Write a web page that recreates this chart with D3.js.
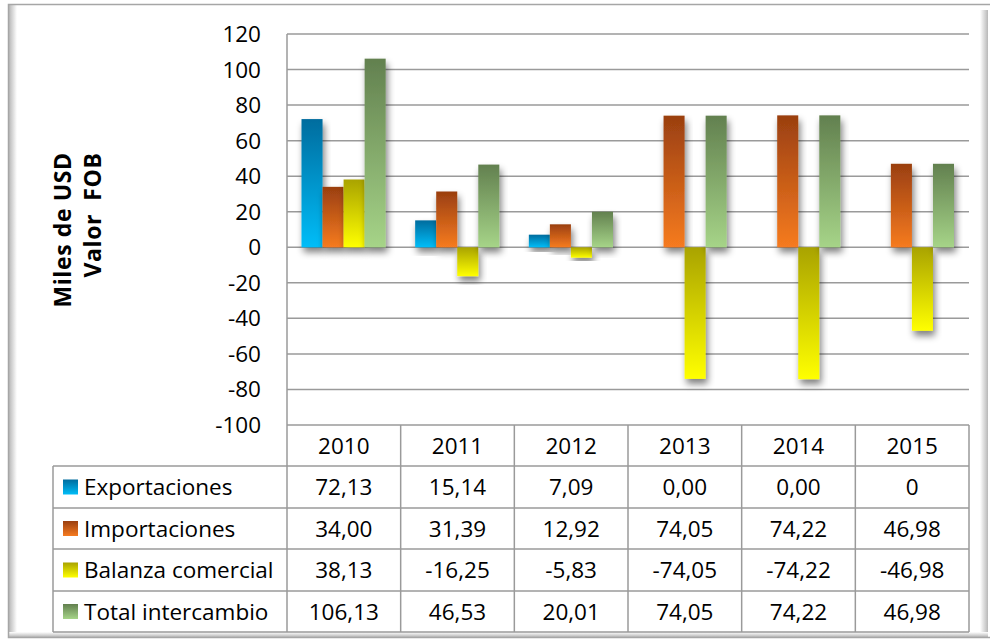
<!DOCTYPE html>
<html>
<head>
<meta charset="utf-8">
<script src="https://cdn.jsdelivr.net/npm/d3@7"></script>
<style>
  body { margin: 0; background: #fff; }
  text { font-family: "Open Sans", sans-serif; fill: #000; }
</style>
</head>
<body>
<script>
let years = ["2010", "2011", "2012", "2013", "2014", "2015"];
let seriesNames = ["Exportaciones", "Importaciones", "Balanza comercial", "Total intercambio"];
let exportaciones = [72.13, 15.14, 7.09, 0, 0, 0];
let importaciones = [34.00, 31.39, 12.92, 74.05, 74.22, 46.98];
let balanza = [38.13, -16.25, -5.83, -74.05, -74.22, -46.98];
let total = [106.13, 46.53, 20.01, 74.05, 74.22, 46.98];
let tableText = [
  ["72,13", "15,14", "7,09", "0,00", "0,00", "0"],
  ["34,00", "31,39", "12,92", "74,05", "74,22", "46,98"],
  ["38,13", "-16,25", "-5,83", "-74,05", "-74,22", "-46,98"],
  ["106,13", "46,53", "20,01", "74,05", "74,22", "46,98"]
];
let yTicks = [120, 100, 80, 60, 40, 20, 0, -20, -40, -60, -80, -100];

let width = 990;
let height = 641;

// gradient colours: top, bottom
let colors = [
  ["#006c9e", "#00bdf8"],
  ["#9a3f10", "#f67b20"],
  ["#a9a300", "#ffff00"],
  ["#62804f", "#a6d488"]
];

let allSeries = [exportaciones, importaciones, balanza, total];

let plotLeft = 287, plotRight = 969, plotTop = 34, plotBottom = 425;
let tableLeft = 53;
let rowTops = [425, 466, 508, 549, 591, 632];
let fs = 22.5;

let svg = d3.select("body").append("svg").attr("width", width).attr("height", height);
let defs = svg.append("defs");

colors.forEach((c, i) => {
  let g = defs.append("linearGradient").attr("id", "grad" + i)
    .attr("x1", 0).attr("y1", 0).attr("x2", 0).attr("y2", 1);
  g.append("stop").attr("offset", "0%").attr("stop-color", c[0]);
  g.append("stop").attr("offset", "100%").attr("stop-color", c[1]);
});

let shadow = defs.append("filter").attr("id", "shadow")
  .attr("x", "-40%").attr("y", "-30%").attr("width", "180%").attr("height", "160%");
shadow.append("feGaussianBlur").attr("in", "SourceAlpha").attr("stdDeviation", 3.5);
shadow.append("feOffset").attr("dx", 2).attr("dy", 5).attr("result", "blur");
shadow.append("feComponentTransfer").append("feFuncA").attr("type", "linear").attr("slope", 0.5);
let merge = shadow.append("feMerge");
merge.append("feMergeNode");
merge.append("feMergeNode").attr("in", "SourceGraphic");

// frame shadows
let lg = defs.append("linearGradient").attr("id", "edgeL").attr("x1", 0).attr("x2", 1);
lg.append("stop").attr("offset", "0%").attr("stop-color", "#b8b8b8");
lg.append("stop").attr("offset", "100%").attr("stop-color", "#ffffff");
let rg = defs.append("linearGradient").attr("id", "edgeR").attr("x1", 0).attr("x2", 1);
rg.append("stop").attr("offset", "0%").attr("stop-color", "#ffffff");
rg.append("stop").attr("offset", "100%").attr("stop-color", "#b8b8b8");
let bg = defs.append("linearGradient").attr("id", "edgeB").attr("x1", 0).attr("x2", 0).attr("y1", 0).attr("y2", 1);
bg.append("stop").attr("offset", "0%").attr("stop-color", "#ffffff");
bg.append("stop").attr("offset", "100%").attr("stop-color", "#b8b8b8");

svg.append("rect").attr("x", 9).attr("y", 5).attr("width", 8).attr("height", 630).attr("fill", "url(#edgeL)");
svg.append("rect").attr("x", 980).attr("y", 10).attr("width", 8).attr("height", 625).attr("fill", "url(#edgeR)");
svg.append("rect").attr("x", 9).attr("y", 632).attr("width", 979).attr("height", 5).attr("fill", "url(#edgeB)");
svg.append("rect").attr("x", 8.5).attr("y", 4.5).attr("width", 990).attr("height", 633)
  .attr("fill", "none").attr("stroke", "#a6a6a6").attr("stroke-width", 1.5);

let x0 = d3.scaleBand().domain(years).range([plotLeft, plotRight]);
let x1 = d3.scaleBand().domain(d3.range(4)).range([14.5, x0.bandwidth() - 15]);
let y = d3.scaleLinear().domain([-100, 120]).range([plotBottom, plotTop]);

let gridColor = "#9a9a9a";

// gridlines
svg.append("g").selectAll("line").data(yTicks.filter(d => d > -100)).enter().append("line")
  .attr("x1", plotLeft).attr("x2", plotRight)
  .attr("y1", d => y(d)).attr("y2", d => y(d))
  .attr("stroke", gridColor).attr("stroke-width", 1.5);

// y tick labels
svg.append("g").selectAll("text").data(yTicks).enter().append("text")
  .attr("x", 261).attr("y", d => y(d) + 8)
  .attr("text-anchor", "end").attr("font-size", fs)
  .text(d => d);

// y title
let title = svg.append("text").attr("transform", "translate(78,230) rotate(-90)")
  .attr("font-size", 23).attr("font-weight", "bold").attr("text-anchor", "middle")
  .attr("letter-spacing", 0.6);
title.append("tspan").attr("x", 0).attr("dy", -7).text("Miles de USD");
title.append("tspan").attr("x", 15).attr("dy", 30).attr("xml:space", "preserve").text("Valor  FOB");

// bars
let groups = svg.append("g").selectAll("g").data(years).enter().append("g")
  .attr("transform", d => "translate(" + x0(d) + ",0)");

groups.selectAll("rect").data((d, i) => allSeries.map((s, k) => ({k: k, v: s[i]})).filter(e => e.v !== 0))
  .enter().append("rect")
  .attr("x", d => x1(d.k))
  .attr("width", x1.bandwidth())
  .attr("y", d => y(Math.max(0, d.v)))
  .attr("height", d => Math.abs(y(d.v) - y(0)))
  .attr("fill", d => "url(#grad" + d.k + ")")
  .attr("filter", "url(#shadow)");

// axis line
svg.append("line").attr("x1", plotLeft).attr("x2", plotLeft).attr("y1", plotTop).attr("y2", rowTops[5])
  .attr("stroke", gridColor).attr("stroke-width", 1.5);

// data table
let table = svg.append("g");
table.selectAll("line.h").data(rowTops).enter().append("line")
  .attr("x1", (d, i) => i === 0 ? plotLeft : tableLeft).attr("x2", plotRight)
  .attr("y1", d => d).attr("y2", d => d)
  .attr("stroke", gridColor).attr("stroke-width", 1.5);
table.selectAll("line.v").data(years.map(d => x0(d) + x0.bandwidth()).concat([tableLeft])).enter().append("line")
  .attr("x1", d => d).attr("x2", d => d)
  .attr("y1", d => d === tableLeft ? rowTops[1] : rowTops[0]).attr("y2", rowTops[5])
  .attr("stroke", gridColor).attr("stroke-width", 1.5);

// header
table.selectAll("text.year").data(years).enter().append("text")
  .attr("x", d => x0(d) + x0.bandwidth() / 2)
  .attr("y", (rowTops[0] + rowTops[1]) / 2 + 8)
  .attr("text-anchor", "middle").attr("font-size", fs)
  .text(d => d);

seriesNames.forEach((name, k) => {
  let top = rowTops[k + 1], bot = rowTops[k + 2];
  let cy = (top + bot) / 2;
  table.append("rect").attr("x", 63).attr("y", cy - 7.5).attr("width", 15).attr("height", 15)
    .attr("fill", "url(#grad" + k + ")");
  table.append("text").attr("x", 84).attr("y", cy + 8).attr("font-size", fs).text(name);
  table.selectAll("text.v" + k).data(tableText[k]).enter().append("text")
    .attr("x", (d, i) => x0(years[i]) + x0.bandwidth() / 2)
    .attr("y", cy + 8)
    .attr("text-anchor", "middle").attr("font-size", fs)
    .text(d => d);
});
</script>
</body>
</html>
